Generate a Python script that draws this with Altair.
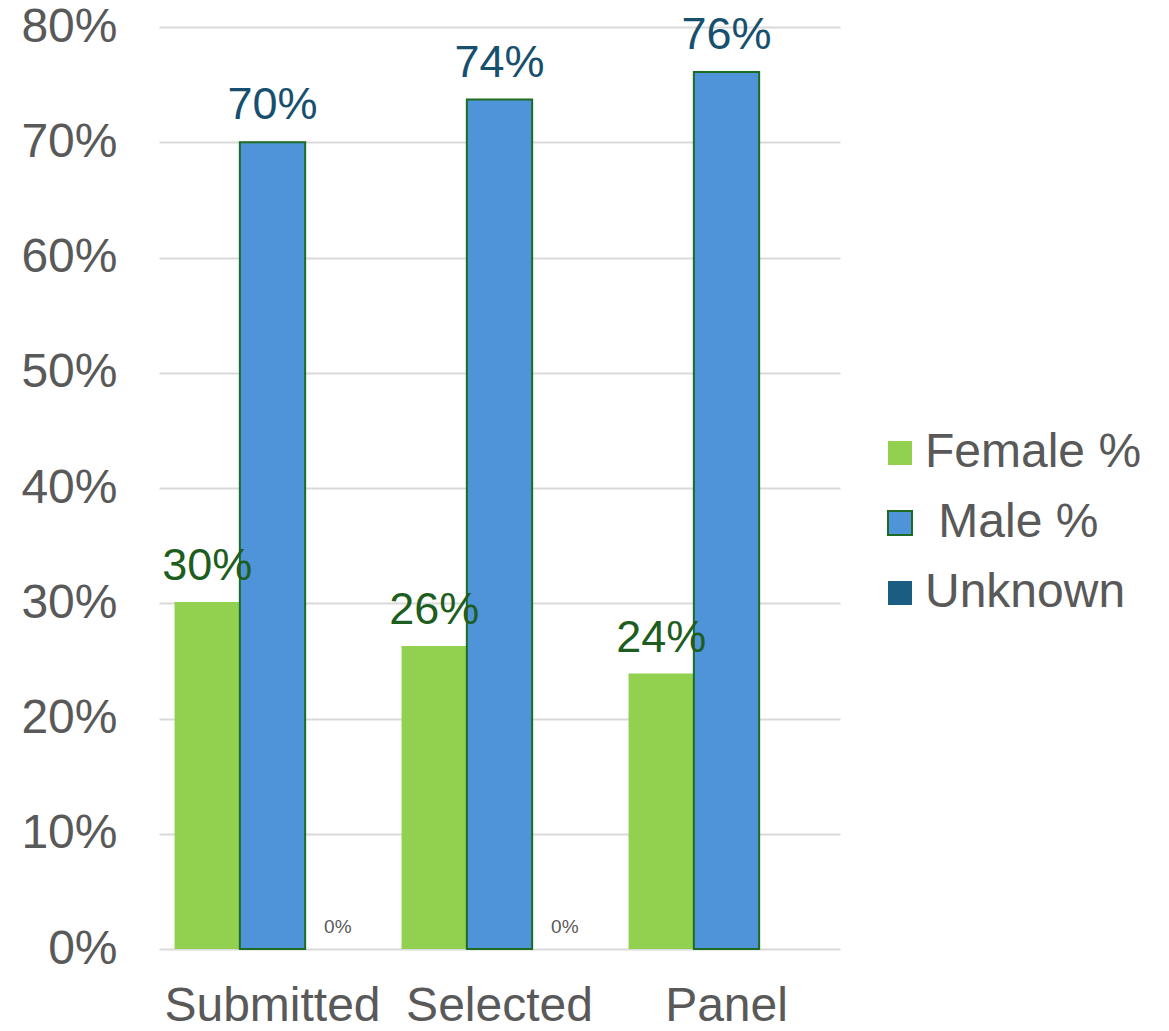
import altair as alt
import pandas as pd

categories = ["Submitted", "Selected", "Panel"]
series = ["Female %", "Male %", "Unknown"]
female = [0.301, 0.263, 0.239]
male = [0.700, 0.737, 0.761]
unknown = [0.0, 0.0, None]

rows = []
for i, c in enumerate(categories):
    rows.append({"cat": c, "series": series[0], "v": female[i]})
    rows.append({"cat": c, "series": series[1], "v": male[i]})
    rows.append({"cat": c, "series": series[2], "v": unknown[i]})
df = pd.DataFrame(rows)

FONT = "Liberation Sans"
GRAY = "#595959"

x = alt.X("cat:N", sort=categories, title=None,
          scale=alt.Scale(paddingInner=0.137, paddingOuter=0.0685),
          axis=alt.Axis(labelAngle=0, labelFontSize=48, labelColor=GRAY, labelFont=FONT,
                        ticks=False, domain=False, labelPadding=33, labelLimit=400))
xo = alt.XOffset("series:N", sort=series, scale=alt.Scale(domain=series, paddingInner=0, paddingOuter=0))
y = alt.Y("v:Q", title=None,
          scale=alt.Scale(domain=[0, 0.8], nice=False),
          axis=alt.Axis(values=[0, 0.1, 0.2, 0.3, 0.4, 0.5, 0.6, 0.7, 0.8], format=".0%",
                        labelFontSize=48, labelColor=GRAY, labelFont=FONT, ticks=False,
                        domain=False, gridColor="#d9d9d9", gridWidth=2, labelPadding=42,
                        minExtent=146))

bars = alt.Chart(df).mark_bar(strokeWidth=2).encode(
    x=x, xOffset=xo, y=y,
    fill=alt.Fill("series:N", sort=series, title=None,
                  scale=alt.Scale(domain=series, range=["#92d050", "#4f94d8", "#1a5c82"]),
                  legend=alt.Legend(orient="none", legendX=717, legendY=402,
                                    labelFontSize=48, labelColor=GRAY, labelFont=FONT,
                                    symbolType="square", symbolSize=576, symbolStrokeWidth=2,
                                    rowPadding=22, labelOffset=1, labelLimit=400,
                                    labelExpr="datum.label == 'Male %' ? '\u200b Male %' : datum.label")),
    stroke=alt.Stroke("series:N", sort=series, title=None,
                      scale=alt.Scale(domain=series, range=["transparent", "#1e6b23", "transparent"])),
)

def labels(sname, color, size, dy):
    return alt.Chart(df).transform_filter(
        (alt.datum.series == sname) & alt.expr.isValid(alt.datum.v)
    ).mark_text(fontSize=size, color=color, font=FONT, baseline="alphabetic", dy=dy).encode(
        x=x, xOffset=xo, y=y, text=alt.Text("v:Q", format=".0%"))

chart = alt.layer(
    bars,
    labels(series[0], "#1d5e20", 45, -22),
    labels(series[1], "#17506e", 45, -23),
    labels(series[2], GRAY, 19, -16),
).properties(
    width=681, height=922,
    autosize=alt.AutoSizeParams(type="none"),
    padding={"left": 151, "top": 19, "right": 320, "bottom": 82},
).configure_view(stroke=None)

chart.save("out.html", embed_options={"renderer": "svg", "actions": False})
